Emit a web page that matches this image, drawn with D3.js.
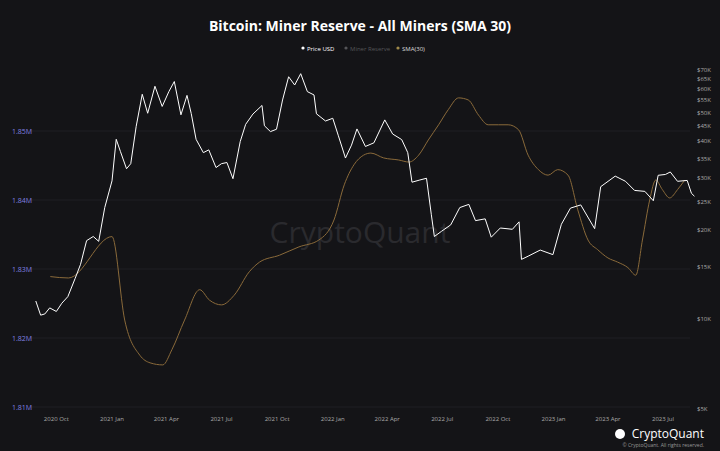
<!DOCTYPE html>
<html>
<head>
<meta charset="utf-8">
<script src="https://cdn.jsdelivr.net/npm/d3@7"></script>
<style>
  body { margin: 0; background: #141417; }
  text { font-family: 'Open Sans', sans-serif; }
</style>
</head>
<body>
<div id="chart"></div>
<script>
const priceDates = ['2020-08-28','2020-09-05','2020-09-12','2020-09-20','2020-10-01','2020-10-10','2020-10-20','2020-11-01','2020-11-10','2020-11-20','2020-12-01','2020-12-10','2020-12-20','2021-01-01','2021-01-08','2021-01-15','2021-01-25','2021-02-01','2021-02-10','2021-02-20','2021-03-01','2021-03-13','2021-03-25','2021-04-05','2021-04-14','2021-04-25','2021-05-05','2021-05-12','2021-05-20','2021-06-01','2021-06-10','2021-06-22','2021-07-01','2021-07-10','2021-07-20','2021-08-01','2021-08-10','2021-08-22','2021-09-06','2021-09-10','2021-09-20','2021-09-30','2021-10-10','2021-10-20','2021-10-30','2021-11-09','2021-11-20','2021-12-01','2021-12-05','2021-12-20','2022-01-01','2022-01-10','2022-01-22','2022-02-01','2022-02-10','2022-02-24','2022-03-10','2022-03-28','2022-04-10','2022-04-25','2022-05-05','2022-05-12','2022-05-25','2022-06-05','2022-06-13','2022-06-18','2022-06-30','2022-07-15','2022-07-30','2022-08-14','2022-08-25','2022-09-10','2022-09-20','2022-10-05','2022-10-25','2022-11-05','2022-11-09','2022-11-20','2022-12-10','2022-12-31','2023-01-14','2023-01-29','2023-02-15','2023-03-10','2023-03-20','2023-04-13','2023-04-30','2023-05-15','2023-06-01','2023-06-15','2023-06-23','2023-07-05','2023-07-13','2023-07-25','2023-08-10','2023-08-17','2023-08-22']
const priceValues = [11500,10300,10400,10900,10600,11300,11900,13700,15300,18400,19000,18300,23800,29300,40500,36800,32200,33500,44800,57500,49600,61200,52300,58700,63500,49000,57000,49500,40500,36500,37300,32500,33500,33800,29800,39800,45500,49300,52700,45000,43000,43800,55000,65900,61800,67500,58700,57200,49400,46700,47700,41800,35000,38700,43900,38300,39400,47100,42200,40400,36500,29000,29500,29900,22500,19000,19800,20800,23800,24400,21500,21800,18900,20300,20100,21300,15900,16300,17100,16500,20900,23700,24300,20200,28000,30400,29200,27200,27000,25100,30600,30800,31400,29200,29400,26600,26000]

const smaDates = ['2020-09-21','2020-10-21','2021-01-01','2021-01-22','2021-02-16','2021-03-05','2021-03-26','2021-04-10','2021-05-01','2021-05-26','2021-06-11','2021-07-01','2021-07-22','2021-08-16','2021-09-02','2021-10-05','2021-11-06','2021-12-09','2022-01-03','2022-01-20','2022-02-05','2022-02-21','2022-03-05','2022-03-26','2022-04-20','2022-05-07','2022-05-23','2022-06-08','2022-06-25','2022-07-11','2022-07-28','2022-08-13','2022-08-30','2022-09-15','2022-10-02','2022-10-18','2022-11-04','2022-11-20','2022-12-07','2022-12-23','2023-01-08','2023-01-25','2023-02-10','2023-02-27','2023-03-15','2023-04-01','2023-04-17','2023-05-04','2023-05-17','2023-05-28','2023-06-09','2023-06-19','2023-06-30','2023-07-12','2023-07-25','2023-08-06']
const smaValues = [1.8289,1.8287,1.8347,1.8226,1.8175,1.8164,1.8161,1.8183,1.8226,1.8270,1.8255,1.8248,1.8262,1.8296,1.8310,1.8320,1.8332,1.8342,1.8371,1.8422,1.8451,1.8465,1.8468,1.8461,1.8458,1.8455,1.8465,1.8487,1.8509,1.8531,1.8548,1.8545,1.8523,1.8509,1.8509,1.8509,1.8502,1.8465,1.8444,1.8436,1.8444,1.8436,1.8386,1.8342,1.8328,1.8316,1.8310,1.8302,1.8291,1.8342,1.8400,1.8429,1.8415,1.8403,1.8415,1.8429]

const leftTicks = [1.81, 1.82, 1.83, 1.84, 1.85]
const rightTicks = [5000, 10000, 15000, 20000, 25000, 30000, 35000, 40000, 45000, 50000, 55000, 60000, 65000, 70000]
const monthTicks = ['2020-10-01','2021-01-01','2021-04-01','2021-07-01','2021-10-01','2022-01-01','2022-04-01','2022-07-01','2022-10-01','2023-01-01','2023-04-01','2023-07-01']

const width = 720
const height = 451
const parse = d3.timeParse('%Y-%m-%d')

const svg = d3.select('#chart').append('svg')
  .attr('width', width).attr('height', height)
svg.append('rect').attr('width', width).attr('height', height).attr('fill', '#141417')

const x = d3.scaleTime()
  .domain([parse('2021-01-01'), parse('2023-07-01')])
  .range([112, 663])
const yLeft = d3.scaleLinear().domain([1.81, 1.85]).range([407, 131])
const yRight = d3.scaleLog().domain([5000, 70000]).range([408, 69])

// grid
svg.append('g').selectAll('line').data(leftTicks).enter().append('line')
  .attr('x1', 30).attr('x2', 690)
  .attr('y1', d => yLeft(d)).attr('y2', d => yLeft(d))
  .attr('stroke', '#1f1f24').attr('stroke-width', 1)

// watermark
svg.append('text').attr('x', 360).attr('y', 243).attr('text-anchor', 'middle')
  .attr('font-size', 30).attr('fill', '#2a2a2e').text('CryptoQuant')

// title
svg.append('text').attr('x', 360).attr('y', 31).attr('text-anchor', 'middle')
  .attr('font-size', 14).attr('font-weight', 'bold').attr('fill', '#ffffff')
  .text('Bitcoin: Miner Reserve - All Miners (SMA 30)')

// legend
const legend = [
  { label: 'Price USD', color: '#ffffff', x: 303 },
  { label: 'Miner Reserve', color: '#555558', x: 346 },
  { label: 'SMA(30)', color: '#a08a4a', x: 398 }
]
legend.forEach(l => {
  svg.append('circle').attr('cx', l.x).attr('cy', 48).attr('r', 1.6).attr('fill', l.color)
  svg.append('text').attr('x', l.x + 4).attr('y', 50.5).attr('font-size', 6)
    .attr('fill', l.color === '#a08a4a' ? '#dddddd' : l.color).text(l.label)
})

// left axis labels
svg.append('g').selectAll('text').data(leftTicks).enter().append('text')
  .attr('x', 12).attr('y', d => yLeft(d) + 2.5).attr('font-size', 7)
  .attr('fill', '#8080e0').text(d => d.toFixed(2) + 'M')

// right axis labels
svg.append('g').selectAll('text').data(rightTicks).enter().append('text')
  .attr('x', 697).attr('y', d => yRight(d) + 2.5).attr('font-size', 6)
  .attr('fill', '#aaaaaa').text(d => '$' + d / 1000 + 'K')

// x axis labels
const fmt = d3.timeFormat('%Y %b')
svg.append('g').selectAll('text').data(monthTicks).enter().append('text')
  .attr('x', d => x(parse(d))).attr('y', 421).attr('text-anchor', 'middle')
  .attr('font-size', 6).attr('fill', '#aaaaaa').text(d => fmt(parse(d)))

// SMA line
const smaLine = d3.line()
  .x((d, i) => x(parse(smaDates[i])))
  .y(d => yLeft(d))
  .curve(d3.curveMonotoneX)
svg.append('path').datum(smaValues).attr('d', smaLine)
  .attr('fill', 'none').attr('stroke', '#8a6a3a').attr('stroke-width', 1)

// price line
const priceLine = d3.line()
  .x((d, i) => x(parse(priceDates[i])))
  .y(d => yRight(d))
svg.append('path').datum(priceValues).attr('d', priceLine)
  .attr('fill', 'none').attr('stroke', '#ffffff').attr('stroke-width', 1)

// footer
svg.append('text').attr('x', 704).attr('y', 438).attr('text-anchor', 'end')
  .attr('font-size', 12).attr('fill', '#ffffff').text('CryptoQuant')
svg.append('circle').attr('cx', 620).attr('cy', 434).attr('r', 5).attr('fill', '#ffffff')
svg.append('text').attr('x', 704).attr('y', 447).attr('text-anchor', 'end')
  .attr('font-size', 5).attr('fill', '#999999').text('© CryptoQuant. All rights reserved.')
</script>
</body>
</html>
